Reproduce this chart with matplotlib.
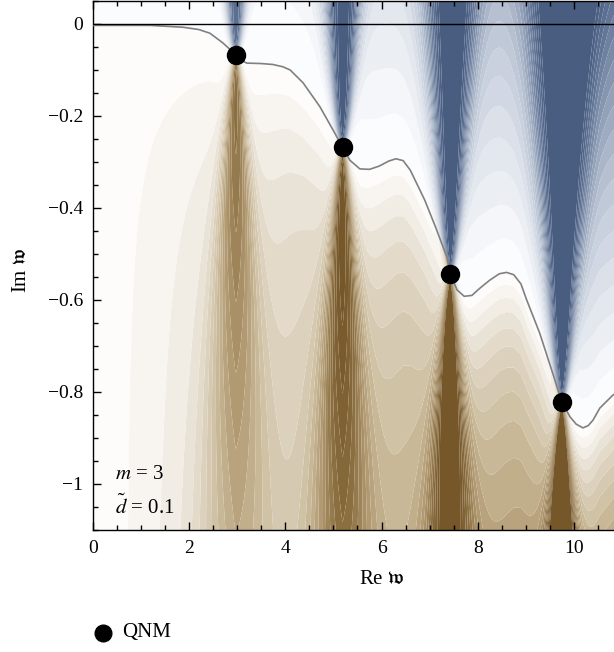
import numpy as np
import matplotlib
matplotlib.use("Agg")
import matplotlib.pyplot as plt
from matplotlib.colors import LinearSegmentedColormap
from matplotlib.lines import Line2D
from matplotlib.ticker import MultipleLocator

plt.rcParams['font.family'] = ['Liberation Serif', 'DejaVu Serif']
plt.rcParams['mathtext.fontset'] = 'stix'

# QNM positions (Re w, Im w)
qnm_re = [2.97, 5.19, 7.43, 9.75]
qnm_im = [-0.067, -0.268, -0.543, -0.822]

# zero contour (grey line)
curve_x = [0.0, 1.19, 1.87, 2.20, 2.43, 2.70, 2.97, 3.10, 3.20, 3.50, 3.74, 3.95,
           4.10, 4.37, 4.72, 4.99, 5.19, 5.34, 5.55, 5.75, 5.95, 6.15, 6.30, 6.45,
           6.60, 6.90, 7.13, 7.36, 7.43, 7.57, 7.72, 7.88, 8.05, 8.25, 8.45, 8.60,
           8.75, 8.90, 9.02, 9.29, 9.56, 9.75, 9.92, 10.05, 10.19, 10.30, 10.40,
           10.54, 10.81, 11.2, 12.0]
curve_y = [-0.003, -0.003, -0.007, -0.012, -0.020, -0.041, -0.067, -0.080, -0.085,
           -0.086, -0.088, -0.093, -0.100, -0.128, -0.180, -0.230, -0.268, -0.296,
           -0.315, -0.316, -0.309, -0.298, -0.293, -0.297, -0.318, -0.383, -0.443,
           -0.507, -0.543, -0.578, -0.592, -0.590, -0.574, -0.557, -0.543, -0.540,
           -0.545, -0.565, -0.600, -0.672, -0.759, -0.822, -0.854, -0.870, -0.878,
           -0.873, -0.861, -0.835, -0.807, -0.78, -0.76]

# relative strength of the streak above / below each QNM
amp_above = [0.85, 1.0, 1.0, 1.0]
amp_below = [0.8, 1.0, 1.05, 1.1]

xticks = [0, 2, 4, 6, 8, 10]
xtick_labels = ['0', '2', '4', '6', '8', '10']
yticks = [0, -0.2, -0.4, -0.6, -0.8, -1.0]
ytick_labels = ['0', '\u22120.2', '\u22120.4', '\u22120.6', '\u22120.8', '\u22121']

W, H = 614, 652
fig = plt.figure(figsize=(W / 100, H / 100), dpi=100)
ax_left, ax_right, ax_top, ax_bot = 93, 670, 1, 530
ax = fig.add_axes([ax_left / W, 1 - ax_bot / H, (ax_right - ax_left) / W, (ax_bot - ax_top) / H])
xlim = (0, 12)
ylim = (-1.1, 0.05)

gx = np.linspace(xlim[0], xlim[1], 900)
gy = np.linspace(ylim[0], ylim[1], 600)
X, Y = np.meshgrid(gx, gy)
C = np.interp(X, curve_x, curve_y)
D = np.abs(Y - C)
above = Y >= C

Mb = D * (0.03 + 0.075 * X) * np.clip((X - 1.5) / 1.5, 0, 1)
Mr = 0.07 * X * (1 - np.exp(-D / 0.3))
for xn, yn, aa, ab in zip(qnm_re, qnm_im, amp_above, amp_below):
    dx = np.abs(X - xn)
    dy = np.abs(Y - yn)
    wb = 0.6 * np.sqrt(dy)
    sb = 0.025 + 0.22 * dy
    wr = 0.52 * np.sqrt(dy)
    sr = 0.025 + 0.22 * dy
    Mb += aa * np.exp(-dy / 3.0) / (1 + np.exp((dx - wb) / sb))
    Mr += ab * np.exp(-dy / 1.2) / (1 + np.exp((dx - wr) / sr))
M = np.where(above, Mb, Mr)
M = np.clip(M, 0, 1)
F = np.where(above, M, -M)

cmap = LinearSegmentedColormap.from_list('bb', [
    (0.0, '#735528'), (0.05, '#7b5d2f'), (0.12, '#8f7244'), (0.2, '#ad956c'),
    (0.3, '#cdbd9e'), (0.4, '#e6ded0'), (0.475, '#fbfaf8'), (0.5, '#ffffff'),
    (0.525, '#f8f9fb'), (0.6, '#dfe4ec'), (0.7, '#bcc6d5'), (0.8, '#8e9db5'),
    (0.88, '#66799a'), (0.95, '#4f6488'), (1.0, '#465b7e')])
levels = np.linspace(-1, 1, 41)
ax.contourf(X, Y, F, levels=levels, cmap=cmap, vmin=-1, vmax=1, antialiased=True)

ax.plot(curve_x, curve_y, color='#808080', lw=1.2, zorder=3)
ax.axhline(0, color='black', lw=1.0, zorder=4)
ax.plot(qnm_re, qnm_im, 'o', color='black', ms=13, zorder=5)

ax.set_xlim(*xlim)
ax.set_ylim(*ylim)
ax.set_xticks(xticks)
ax.set_xticklabels(xtick_labels)
ax.set_yticks(yticks)
ax.set_yticklabels(ytick_labels)
ax.xaxis.set_minor_locator(MultipleLocator(0.5))
ax.yaxis.set_minor_locator(MultipleLocator(0.05))
ax.tick_params(which='both', direction='in', top=True, right=False, labelsize=14, width=1)
ax.tick_params(which='major', length=6, pad=7)
ax.tick_params(which='minor', length=3.5)
for s in ax.spines.values():
    s.set_linewidth(1.0)

fig.text(382 / W, 1 - 580 / H, r'Re $\mathfrak{w}$', ha='center', va='center', fontsize=15)
fig.text(22 / W, 1 - 270 / H, r'Im $\mathfrak{w}$', ha='center', va='center', fontsize=15, rotation=90)

ax.text(0.45, -0.98, r'$m$ = 3', fontsize=15, ha='left', va='center')
ax.text(0.45, -1.05, r'$\tilde{d}$ = 0.1', fontsize=15, ha='left', va='center')

fig.add_artist(Line2D([103 / W], [1 - 633 / H], marker='o', ms=12, color='black', ls='',
                      transform=fig.transFigure))
fig.text(122 / W, 1 - 633 / H, 'QNM', ha='left', va='center', fontsize=15)

fig.savefig('out.png', dpi=100)
